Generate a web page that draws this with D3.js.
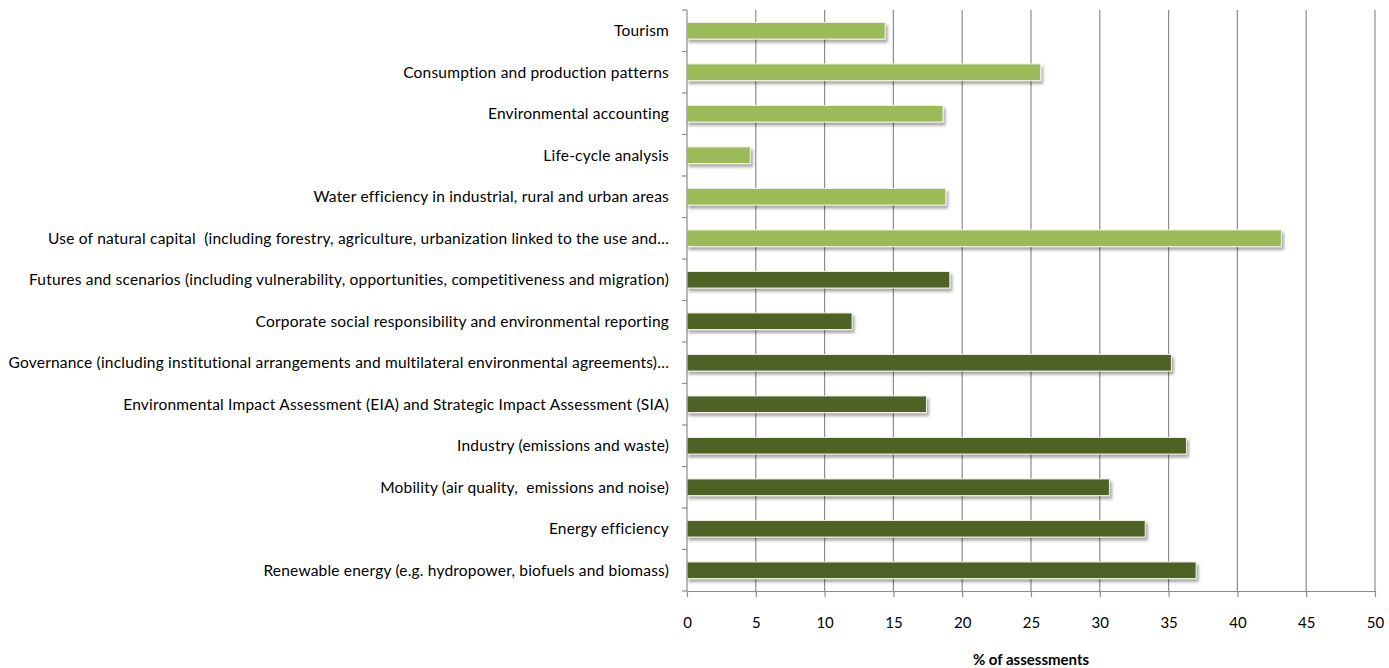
<!DOCTYPE html>
<html>
<head>
<meta charset="utf-8">
<title>Assessments by topic</title>
<style>
body { margin: 0; background: #fff; }
text { font-family: Lato, "Liberation Sans", Arial, sans-serif; fill: #000; }
.grid line { stroke: #8c8c8c; stroke-width: 1.2px; }
.axis path, .axis line { stroke: #8c8c8c; stroke-width: 1.2px; }
.cat { white-space: pre; letter-spacing: 0.2px; }
</style>
</head>
<body>
<script src="https://cdn.jsdelivr.net/npm/d3@7/dist/d3.min.js"></script>
<script>

var categories = [
  "Tourism",
  "Consumption and production patterns",
  "Environmental accounting",
  "Life-cycle analysis",
  "Water efficiency in industrial, rural and urban areas",
  "Use of natural capital  (including forestry, agriculture, urbanization linked to the use and\u2026",
  "Futures and scenarios (including vulnerability, opportunities, competitiveness and migration)",
  "Corporate social responsibility and environmental reporting",
  "Governance (including institutional arrangements and multilateral environmental agreements)\u2026",
  "Environmental Impact Assessment (EIA) and Strategic Impact Assessment (SIA)",
  "Industry (emissions and waste)",
  "Mobility (air quality,  emissions and noise)",
  "Energy efficiency",
  "Renewable energy (e.g. hydropower, biofuels and biomass)"
];

var values = [14.4, 25.7, 18.6, 4.6, 18.8, 43.2, 19.1, 12.0, 35.2, 17.4, 36.3, 30.7, 33.3, 37.0];

// first six topics light green, the rest dark green
var groups = ["light", "light", "light", "light", "light", "light",
              "dark", "dark", "dark", "dark", "dark", "dark", "dark", "dark"];

var xTicks = [0, 5, 10, 15, 20, 25, 30, 35, 40, 45, 50];

var width = 1389, height = 668;
var margin = {top: 10, right: 14, bottom: 77, left: 687};

var svg = d3.select("body").append("svg")
    .attr("width", width)
    .attr("height", height);

var defs = svg.append("defs");
var shadow = defs.append("filter")
    .attr("id", "shadow")
    .attr("x", "-5%").attr("y", "-30%")
    .attr("width", "115%").attr("height", "190%");
shadow.append("feDropShadow")
    .attr("dx", 2).attr("dy", 3)
    .attr("stdDeviation", 1.6)
    .attr("flood-color", "#000")
    .attr("flood-opacity", 0.35);

var x = d3.scaleLinear()
    .domain([0, 50])
    .range([margin.left, width - margin.right]);

var y = d3.scaleBand()
    .domain(categories)
    .range([margin.top, height - margin.bottom])
    .paddingInner(0.6)
    .paddingOuter(0.3);

var color = d3.scaleOrdinal()
    .domain(["light", "dark"])
    .range(["#9bbb59", "#4f6228"]);

// vertical gridlines
svg.append("g")
    .attr("class", "grid")
    .selectAll("line")
    .data(xTicks.slice(1))
    .enter().append("line")
    .attr("x1", function(d) { return x(d); })
    .attr("x2", function(d) { return x(d); })
    .attr("y1", margin.top)
    .attr("y2", height - margin.bottom);

// bars
svg.append("g")
    .selectAll("rect")
    .data(values)
    .enter().append("rect")
    .attr("x", x(0))
    .attr("y", function(d, i) { return y(categories[i]); })
    .attr("width", function(d) { return x(d) - x(0); })
    .attr("height", y.bandwidth())
    .attr("fill", function(d, i) { return color(groups[i]); })
    .attr("stroke", "#eef3e2")
    .attr("stroke-width", 1)
    .attr("filter", "url(#shadow)");

// x axis
var xAxis = svg.append("g")
    .attr("class", "axis")
    .attr("transform", "translate(0," + (height - margin.bottom) + ")")
    .call(d3.axisBottom(x).tickValues(xTicks).tickSize(6).tickSizeOuter(0).tickPadding(20));
xAxis.selectAll("text")
    .style("font-size", "15px")
    .style("font-family", "Lato, sans-serif")
    .attr("fill", "#000");

// y axis with tick marks at band boundaries
var yAxis = svg.append("g").attr("class", "axis");
yAxis.append("line")
    .attr("x1", x(0)).attr("x2", x(0))
    .attr("y1", margin.top).attr("y2", height - margin.bottom);
var bounds = d3.range(categories.length + 1).map(function(i) { return margin.top + i * (height - margin.top - margin.bottom) / categories.length; });
yAxis.selectAll(".ytick")
    .data(bounds)
    .enter().append("line")
    .attr("class", "ytick")
    .attr("x1", x(0) - 5).attr("x2", x(0))
    .attr("y1", function(d) { return d; })
    .attr("y2", function(d) { return d; });

svg.append("g")
    .selectAll("text")
    .data(categories)
    .enter().append("text")
    .attr("class", "cat")
    .attr("x", x(0) - 18)
    .attr("y", function(d) { return y(d) + y.bandwidth() / 2; })
    .attr("dy", "0.35em")
    .attr("text-anchor", "end")
    .style("font-size", "15.5px")
    .text(function(d) { return d; });

svg.append("text")
    .attr("x", (x(0) + x(50)) / 2)
    .attr("y", 660)
    .attr("dy", "0.35em")
    .attr("text-anchor", "middle")
    .style("font-size", "15px")
    .style("font-weight", "bold")
    .text("% of assessments");

</script>
</body>
</html>
